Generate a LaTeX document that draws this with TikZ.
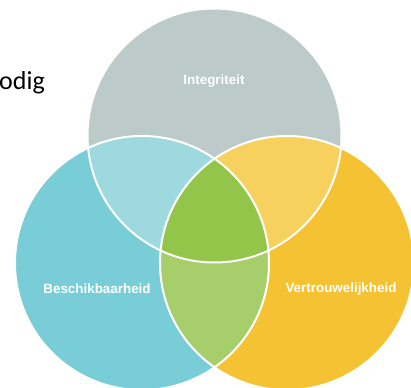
\documentclass[tikz,border=0pt]{standalone}
\usepackage{xcolor}
\usepackage{fontspec}
\setsansfont{Liberation Sans}
\newfontfamily\slidefont{Carlito}
\usepackage{tikz}
\usetikzlibrary{positioning}

\definecolor{ciagray}{HTML}{BCCBCA}
\definecolor{ciablue}{HTML}{78CDD7}
\definecolor{ciayellow}{HTML}{F4C232}
\definecolor{cialightblue}{HTML}{9ED9E0}
\definecolor{cialightyellow}{HTML}{F6D15E}
\definecolor{ciagreen}{HTML}{92C54A}
\definecolor{cialightgreen}{HTML}{A6CF6B}

\begin{document}
\begin{tikzpicture}[
    x=1pt, y=-1pt,
    venntext/.style={
        text=white,
        font=\sffamily\bfseries\fontsize{13.4}{15}\selectfont,
        inner sep=0pt
    },
    vennborder/.style={draw=white, line width=2pt}
]
\useasboundingbox (0,0) rectangle (411,387);

\coordinate (top) at (214.5,135.5);
\coordinate (left) at (142,263);
\coordinate (right) at (287,263);
\def\vennr{127}

% main circles
\fill[ciagray] (top) circle (\vennr);
\fill[ciablue] (left) circle (\vennr);
\fill[ciayellow] (right) circle (\vennr);

% overlaps
\begin{scope}
    \clip (top) circle (\vennr);
    \fill[cialightblue] (left) circle (\vennr);
\end{scope}
\begin{scope}
    \clip (top) circle (\vennr);
    \fill[cialightyellow] (right) circle (\vennr);
\end{scope}
\begin{scope}
    \clip (left) circle (\vennr);
    \fill[cialightgreen] (right) circle (\vennr);
\end{scope}
\begin{scope}
    \clip (top) circle (\vennr);
    \clip (left) circle (\vennr);
    \fill[ciagreen] (right) circle (\vennr);
\end{scope}

% white outlines
\draw[vennborder] (top) circle (\vennr);
\draw[vennborder] (left) circle (\vennr);
\draw[vennborder] (right) circle (\vennr);

\node[venntext] (integrity) at (214,81) {Integriteit};
\node[venntext] (availability) at (97,289) {Beschikbaarheid};
\node[venntext] (confidentiality) at (341,289) {Vertrouwelijkheid};

\node[anchor=base east, inner sep=0pt, font=\slidefont\fontsize{26}{30}\selectfont]
    (heading) at (45,90) {odig};

\end{tikzpicture}
\end{document}
